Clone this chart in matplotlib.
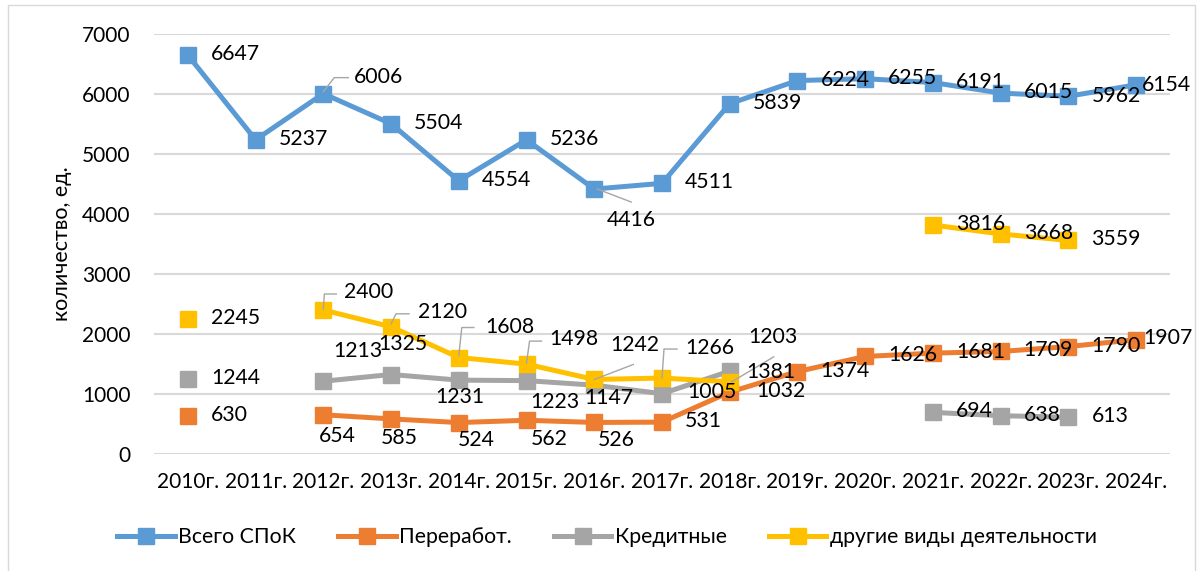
import numpy as np
import matplotlib.pyplot as plt
from matplotlib.patches import Rectangle
import matplotlib.transforms as mtransforms

plt.rcParams['font.family'] = ['Lato', 'DejaVu Sans']

nan = np.nan
years = ['2010г.', '2011г.', '2012г.', '2013г.', '2014г.', '2015г.', '2016г.', '2017г.',
         '2018г.', '2019г.', '2020г.', '2021г.', '2022г.', '2023г.', '2024г.']
vsego = [6647, 5237, 6006, 5504, 4554, 5236, 4416, 4511, 5839, 6224, 6255, 6191, 6015, 5962, 6154]
pererab = [630, nan, 654, 585, 524, 562, 526, 531, 1032, 1374, 1626, 1681, 1709, 1790, 1907]
kredit = [1244, nan, 1213, 1325, 1231, 1223, 1147, 1005, 1381, nan, nan, 694, 638, 613, nan]
drugie = [2245, nan, 2400, 2120, 1608, 1498, 1242, 1266, 1203, nan, nan, 3816, 3668, 3559, nan]

names = ['Всего СПоК', 'Переработ.', 'Кредитные', 'другие виды деятельности']
colors = ['#5B9BD5', '#ED7D31', '#A5A5A5', '#FFC000']

# label placement (pixels): index -> (ha, dx, dy, leader points or None)
default_lab = ('left', 23, -1, None)
lab_pos = [
    {2: ('left', 31, 15, [(0, 2), (11, 16), (25, 16)]),
     6: ('center', 37, -33, [(3, 0), (37, -13)]),
     13: ('left', 23, -2, None),
     14: ('left', 6, -2, None)},
    {2: ('center', 14, -23, None), 3: ('center', 8, -21, None),
     4: ('center', 17, -19, None), 5: ('center', 23, -21, None),
     6: ('center', 22, -20, None), 8: ('left', 27, -1, None),
     14: ('left', 7, 0, None)},
    {2: ('center', 35, 28, None), 3: ('center', 12, 29, None),
     4: ('center', 1, -19, None), 5: ('center', 28, -23, None),
     6: ('center', 15, -15, None), 7: ('left', 25, 0, None),
     8: ('left', 17, -3, None)},
    {2: ('left', 21, 16, [(0, 1), (1, 16), (13, 16)]),
     3: ('left', 27, 13, [(0, 3), (5, 13), (18, 13)]),
     4: ('left', 26, 29, [(0, 2), (3, 30), (15, 30)]),
     5: ('left', 23, 23, [(0, 1), (3, 23), (15, 23)]),
     6: ('left', 16, 32, [(0, 0), (39, 15)]),
     7: ('left', 23, 28, [(0, 0), (2, 29), (15, 29)]),
     8: ('left', 19, 43, [(2, 0), (44, 25)])},
]

fig = plt.figure(figsize=(12, 5.71), dpi=100)
ax = fig.add_axes([154 / 1200, 1 - 454 / 571, 1016 / 1200, 420 / 571])

x = np.arange(len(years))
series = [vsego, pererab, kredit, drugie]
for s, name, c in zip(series, names, colors):
    ax.plot(x, s, color=c, lw=3.6, marker='s', markersize=11, label=name, zorder=3)

ax.set_xlim(-0.5, len(years) - 0.5)
ax.set_ylim(0, 7000)
ax.set_yticks(range(0, 7001, 1000))
ax.set_xticks(x)
ax.set_xticklabels(years)
ax.yaxis.grid(True, color='#d9d9d9', lw=1.5)
ax.set_axisbelow(True)
for sp in ax.spines.values():
    sp.set_visible(False)
ax.tick_params(axis='both', length=0, labelsize=15, colors='black')
ax.tick_params(axis='y', pad=17)
ax.tick_params(axis='x', pad=13)
ax.set_ylabel('количество, ед.', fontsize=15.5)
ax.yaxis.set_label_coords(-0.081, 0.5)

ident = mtransforms.IdentityTransform()
for k, s in enumerate(series):
    for i, v in enumerate(s):
        if np.isnan(v):
            continue
        ha, dx, dy, leader = lab_pos[k].get(i, default_lab)
        ax.annotate(str(int(v)), xy=(i, v), xytext=(dx, dy + 2), textcoords='offset pixels',
                    ha=ha, va='center', fontsize=15.3, zorder=6)
        if leader:
            px, py = ax.transData.transform((i, v))
            ax.plot([px + a for a, b in leader], [py + b for a, b in leader],
                    transform=ident, color='#a6a6a6', lw=1, zorder=5)

fig.legend(loc='center', bbox_to_anchor=(607 / 1200, 1 - 537 / 571), ncol=4, frameon=False,
           fontsize=15.3, handlelength=2.7, handletextpad=0.15, columnspacing=2.0)

fig.patches.append(Rectangle((8 / 1200, -0.01), 1187 / 1200, 1.01 - 5 / 571,
                             transform=fig.transFigure, fill=False, ec='#d9d9d9', lw=1))

fig.savefig('out.png', dpi=100)
